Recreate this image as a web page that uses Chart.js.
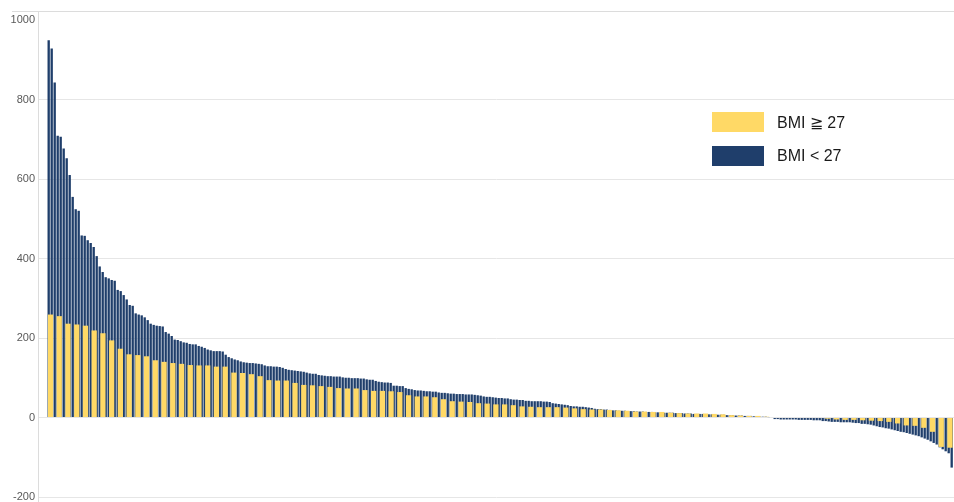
<!DOCTYPE html>
<html>
<head>
<meta charset="utf-8">
<title>BMI waterfall</title>
<script src="https://cdn.jsdelivr.net/npm/chart.js@4.4.0/dist/chart.umd.min.js"></script>
<style>
  html, body { margin: 0; padding: 0; background: #fff; }
  #wrap { position: relative; width: 954px; height: 502px; }
  #legend { position: absolute; left: 712px; top: 112px; font-family: 'Liberation Sans', Arial, sans-serif; font-size: 16px; color: #1a1a1a; }
  .item { display: flex; align-items: center; height: 20px; margin-bottom: 14px; }
  .swatch { width: 52px; height: 20px; margin-right: 13px; }
</style>
</head>
<body>
<div id="wrap">
  <canvas id="myChart" width="954" height="502"></canvas>
  <div id="legend"></div>
</div>
<script>
// values, each group sorted on its own
var bmiHighLabel = 'BMI ≧ 27';
var bmiLowLabel = 'BMI < 27';

var bmiHigh = [
  259, 255, 236, 234, 231, 219, 212, 194, 173, 159, 157, 154, 144, 140, 137, 135, 132, 131, 131, 128,
  128, 113, 112, 109, 104, 94, 93, 93, 87,
  82, 81, 79, 77, 74, 73, 73, 69, 67, 67, 66, 64, 56, 53, 53, 51, 46,
  41, 40, 39, 36, 35, 33, 33, 31, 28, 27, 26, 26, 26, 25, 23, 21, 20, 20,
  19, 18, 17, 15, 15, 14, 14, 12, 11, 10, 10, 10, 9, 8, 6, 5, 4, 4,
  2, 0, 0, 0, 0, 0, 0,
  -3, -5, -6, -6, -7, -8, -9, -11, -15, -20, -21, -26, -36, -74, -76
];

var bmiLow = [
  949, 928, 843, 709, 706, 677, 652, 610, 555, 524, 520, 458, 457, 446, 439, 429, 406, 380, 366, 353,
  350, 346, 344, 321, 318, 308, 297, 283, 281,
  262, 259, 257, 252, 245, 236, 233, 231, 230, 229, 215, 211, 205, 196, 195, 192, 189, 188, 185, 184,
  184, 180, 178, 175, 171, 169, 167, 167, 167, 166, 158, 152, 149, 146, 144, 141, 139, 138, 137, 137,
  136, 135, 134, 131, 129, 129, 128, 128, 127, 125, 122, 120, 119,
  118, 117, 116, 115, 113, 111, 110, 110, 107, 106, 105, 104, 104, 103, 103, 103, 101, 100, 100, 99,
  99, 99, 98, 98, 96, 95, 95, 92, 90, 89, 88, 88, 87, 80, 80, 79, 79, 74, 72, 71,
  69, 68, 68, 67, 66, 66, 65, 65, 63, 62, 62, 61, 60,
  60, 59, 59, 59, 58, 58, 58, 57, 56, 55, 53, 52, 52, 51, 50, 49, 49, 48, 48, 46,
  45, 45, 44, 44, 42, 42, 41, 41, 41, 41, 40, 40, 39, 36, 35, 34, 33, 32, 31, 29,
  28, 28, 27, 27, 26, 25, 24, 22, 21, 21, 20, 20, 19,
  18, 18, 17, 17, 17, 16, 16, 16, 15, 15, 15, 14, 14, 14, 13, 13, 13, 12, 12, 12,
  12, 11, 11, 11, 10, 10, 10, 9, 9, 9, 9, 8, 8, 8, 7, 7, 7, 7, 6, 6,
  6, 5, 5, 5, 4, 4, 4, 3, 3, 2, 2, 2, 1,
  0,
  -4, -4, -5, -5, -5, -5, -5, -5, -6, -6, -6, -6, -6, -7, -7, -7,
  -9, -9, -10, -11, -11, -11, -12, -12, -12, -12, -13, -14, -14,
  -16, -16, -17, -18, -20, -22,
  -24, -25, -27, -28, -30, -32, -34, -36, -37, -39, -41, -43, -45, -47, -50,
  -53, -56, -60, -64, -68, -75, -80, -85, -90, -126
];

var yTicks = [-200, 0, 200, 400, 600, 800, 1000];

var yellow = '#FFD966';
var navy = '#1F3E6B';

function toPoints(values) {
  return values.map(function(v, i) { return {x: i, y: v}; });
}

// light frame above and left of the plot, like the original sheet
var framePlugin = {
  id: 'frame',
  beforeDraw: function(chart) {
    var ctx = chart.ctx;
    var area = chart.chartArea;
    ctx.save();
    ctx.strokeStyle = '#dcdcdc';
    ctx.lineWidth = 1;
    ctx.beginPath();
    ctx.moveTo(12, area.top - 8.5);
    ctx.lineTo(chart.width, area.top - 8.5);
    ctx.moveTo(area.left - 0.5, area.top - 8.5);
    ctx.lineTo(area.left - 0.5, chart.height);
    ctx.stroke();
    ctx.restore();
  }
};

function buildLegend(chart) {
  var html = '';
  chart.data.datasets.forEach(function(ds) {
    html += '<div class="item"><div class="swatch" style="background:' + ds.backgroundColor + '"></div>' +
      '<span>' + ds.label.replace('<', '&lt;') + '</span></div>';
  });
  document.getElementById('legend').innerHTML = html;
}

var ctx = document.getElementById('myChart');
var chart = new Chart(ctx, {
  type: 'bar',
  data: {
    datasets: [
      {
        label: bmiHighLabel,
        data: toPoints(bmiHigh),
        xAxisID: 'x2',
        backgroundColor: yellow,
        barPercentage: 0.6,
        categoryPercentage: 1,
        grouped: false,
        order: 0
      },
      {
        label: bmiLowLabel,
        data: toPoints(bmiLow),
        xAxisID: 'x',
        backgroundColor: navy,
        barPercentage: 0.78,
        categoryPercentage: 1,
        grouped: false,
        order: 1
      }
    ]
  },
  options: {
    responsive: false,
    animation: false,
    layout: { padding: { top: 20, bottom: 5, left: 0, right: 0 } },
    plugins: {
      legend: { display: false },
      tooltip: { enabled: false }
    },
    scales: {
      x: {
        type: 'linear',
        display: false,
        offset: false,
        min: -3.23,
        max: bmiLow.length - 0.23
      },
      x2: {
        type: 'linear',
        display: false,
        offset: false,
        min: -1.32,
        max: bmiHigh.length - 0.54
      },
      y: {
        min: yTicks[0],
        max: yTicks[yTicks.length - 1],
        afterFit: function(scale) {
          scale.width = 39;
          scale.paddingTop = 0;
          scale.paddingBottom = 0;
        },
        afterBuildTicks: function(scale) {
          scale.ticks = yTicks.map(function(v) { return {value: v}; });
        },
        grid: {
          drawTicks: false,
          color: function(c) {
            return c.tick && c.tick.value === yTicks[yTicks.length - 1] ? 'rgba(0,0,0,0)' : '#e6e6e6';
          }
        },
        border: { display: false },
        ticks: {
          padding: 4,
          color: '#595959',
          font: { family: "'Liberation Sans', Arial, sans-serif", size: 11 },
          callback: function(value) { return String(value); }
        }
      }
    }
  },
  plugins: [framePlugin]
});

buildLegend(chart);
</script>
</body>
</html>
